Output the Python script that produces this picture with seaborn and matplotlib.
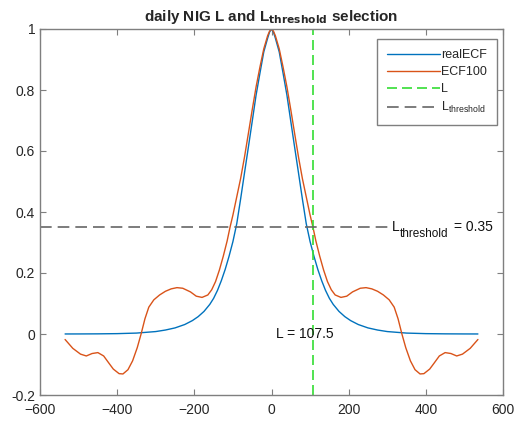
import numpy as np
import pandas as pd
import seaborn as sns
import matplotlib
matplotlib.use("Agg")
import matplotlib.pyplot as plt
from matplotlib.ticker import FormatStrFormatter

# ---- data ----
real_x = [-535, -500, -450, -400, -350, -300, -275, -250, -225, -205, -190, -175, -160,
          -150, -140, -130, -120, -110, -100, -90, -80, -70, -60, -50, -40, -30, -20,
          -10, -5, 0, 5, 10, 20, 30, 40, 50, 60, 70, 80, 90, 100, 110, 120, 130, 140,
          150, 160, 175, 190, 205, 225, 250, 275, 300, 350, 400, 450, 500, 535]
real_y = [0.0001, 0.0002, 0.0005, 0.0012, 0.003, 0.008, 0.013, 0.020, 0.031, 0.044,
          0.057, 0.074, 0.097, 0.117, 0.143, 0.175, 0.212, 0.255, 0.303, 0.362, 0.443,
          0.528, 0.612, 0.697, 0.783, 0.855, 0.925, 0.970, 0.990, 1.0, 0.990, 0.970,
          0.925, 0.855, 0.783, 0.697, 0.612, 0.528, 0.443, 0.362, 0.303, 0.255, 0.212,
          0.175, 0.143, 0.117, 0.097, 0.074, 0.057, 0.044, 0.031, 0.020, 0.013, 0.008,
          0.003, 0.0012, 0.0005, 0.0002, 0.0001]

ecf_x = [-535, -515, -495, -480, -465, -450, -435, -420, -410, -395, -385, -372, -360,
         -348, -338, -328, -318, -305, -290, -275, -260, -245, -230, -210, -195, -180,
         -165, -155, -145, -135, -125, -115, -107.5, -100, -90, -80, -70, -60, -50, -40,
         -30, -20, -10, -5, 0, 5, 10, 20, 30, 40, 50, 60, 70, 80, 90, 100, 107.5, 115,
         125, 135, 145, 155, 165, 180, 195, 210, 230, 245, 260, 275, 290, 305, 318, 328,
         338, 348, 360, 372, 385, 395, 410, 420, 435, 450, 465, 480, 495, 515, 535]
ecf_y = [-0.018, -0.047, -0.066, -0.072, -0.064, -0.061, -0.072, -0.098, -0.115, -0.130,
         -0.131, -0.117, -0.088, -0.045, 0.0, 0.05, 0.088, 0.112, 0.128, 0.14, 0.148,
         0.152, 0.15, 0.138, 0.124, 0.12, 0.128, 0.145, 0.172, 0.21, 0.255, 0.305, 0.35,
         0.39, 0.45, 0.51, 0.58, 0.657, 0.735, 0.81, 0.875, 0.935, 0.978, 0.993, 1.0,
         0.993, 0.978, 0.935, 0.875, 0.81, 0.735, 0.657, 0.58, 0.51, 0.45, 0.39, 0.35,
         0.305, 0.255, 0.21, 0.172, 0.145, 0.128, 0.12, 0.124, 0.138, 0.15, 0.152, 0.148,
         0.14, 0.128, 0.112, 0.088, 0.05, 0.0, -0.045, -0.088, -0.117, -0.131, -0.130,
         -0.115, -0.098, -0.072, -0.061, -0.064, -0.072, -0.066, -0.047, -0.018]

L_value = 107.5
L_threshold = 0.35
xticks = [-600, -400, -200, 0, 200, 400, 600]
yticks = [-0.2, 0, 0.2, 0.4, 0.6, 0.8, 1]

# ---- style ----
sns.set_style("white")
plt.rcParams["font.family"] = ["Liberation Sans", "DejaVu Sans"]
plt.rcParams["mathtext.default"] = "regular"

fig = plt.figure(figsize=(5.14, 4.23), dpi=100)
ax = fig.add_axes([40 / 514, 28 / 423, 463 / 514, 366 / 423])
XMIN, XMAX = -600, 600

df_real = pd.DataFrame({"x": real_x, "y": real_y})
df_ecf = pd.DataFrame({"x": ecf_x, "y": ecf_y})

sns.lineplot(data=df_real, x="x", y="y", ax=ax, color="#0072BD", lw=1.0,
             label="realECF", sort=False, estimator=None)
sns.lineplot(data=df_ecf, x="x", y="y", ax=ax, color="#D95319", lw=1.0,
             label="ECF100", sort=False, estimator=None)
ax.axvline(L_value, color="#33dd33", lw=1.2, ls=(0, (6, 3)), label="L")

txt_x = 312  # where the threshold annotation starts (data units)
ax.axhline(L_threshold, xmin=0, xmax=(txt_x - XMIN) / (XMAX - XMIN),
           color="#666666", lw=1.2, ls=(0, (7, 3.6)), label="L$_{threshold}$")

ax.text(12, 0.0, "L = %g" % L_value, fontsize=10, va="center", ha="left",
        color="#111111")

# threshold annotation composed of pieces (larger subscript, MATLAB-like)
t1 = ax.text(txt_x, L_threshold, "L", fontsize=10, va="center", ha="left",
             color="#111111")
t2 = ax.annotate("threshold", xy=(1, 0.5), xycoords=t1, xytext=(0.2, -4.6),
                 textcoords="offset points", fontsize=8.5, va="center",
                 ha="left", color="#111111")
t3 = ax.annotate("= %g" % L_threshold, xy=(1, 0.5), xycoords=t2,
                 xytext=(4.3, 4.6), textcoords="offset points", fontsize=10,
                 va="center", ha="left", color="#111111")

ax.set_xlim(XMIN, XMAX)
ax.set_ylim(-0.2, 1)
ax.set_xticks(xticks)
ax.set_yticks(yticks)
ax.yaxis.set_major_formatter(FormatStrFormatter("%g"))
ax.set_xlabel("")
ax.set_ylabel("")
ax.tick_params(direction="in", length=4, width=0.8, colors="#7f7f7f",
               labelcolor="#262626", labelsize=10, top=True, right=True,
               bottom=True, left=True)
ax.tick_params(axis="x", pad=6)
for s in ax.spines.values():
    s.set_visible(True)
    s.set_color("#7f7f7f")
    s.set_linewidth(1.0)

ax.set_title("daily NIG L and L$_{\\mathbf{threshold}}$ selection",
             fontsize=11, fontweight="bold", pad=6)

leg = ax.legend(loc="upper right", bbox_to_anchor=(0.987, 0.972), fontsize=9,
                frameon=True, fancybox=False, framealpha=1, edgecolor="#7f7f7f",
                handlelength=4.2, borderpad=0.8, labelspacing=0.4,
                handletextpad=0.1, borderaxespad=0.0)
leg.get_frame().set_linewidth(1.0)

fig.savefig("out.png", dpi=100, facecolor="white")
